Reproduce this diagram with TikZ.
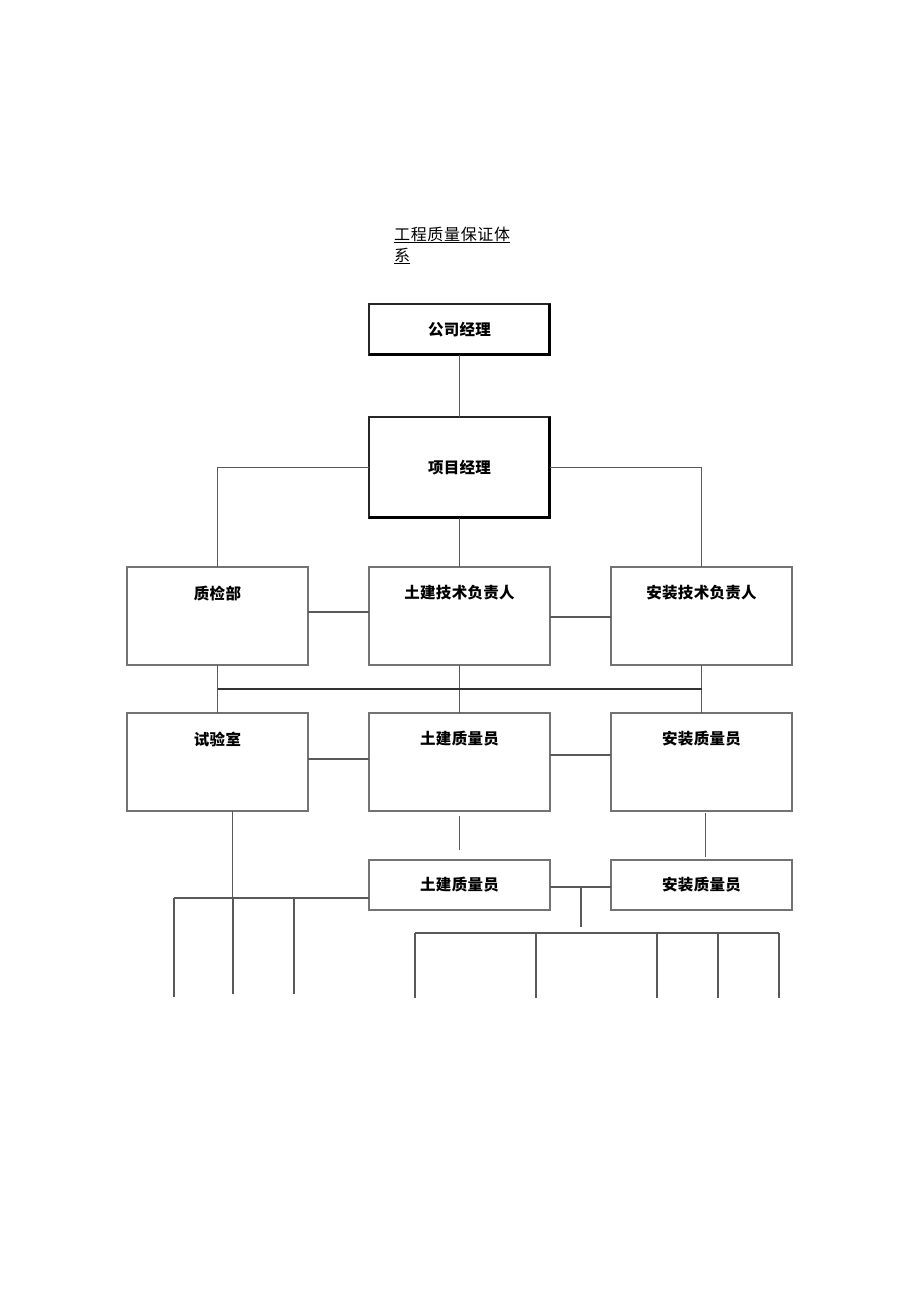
\documentclass[tikz,border=0pt]{standalone}
\usepackage{fontspec}
\newfontfamily\cjk{Noto Sans CJK SC}[LetterSpace=2]
\newfontfamily\cjktitle{Noto Sans CJK SC}[LetterSpace=4]
\usetikzlibrary{positioning}

\begin{document}
\begin{tikzpicture}[x=1pt,y=-1pt,
  line/.style={draw=black!65, line width=1.2pt},
  box/.style={draw=black!55, line width=1.2pt, minimum width=181pt, minimum height=98pt, inner sep=0pt, outer sep=0pt},
  lowbox/.style={box, minimum height=50pt, font=\cjk\bfseries\fontsize{15.5}{17}\selectfont},
  topbox/.style={draw=black!85, line width=1.2pt, minimum width=181pt, inner sep=0pt, outer sep=0pt, font=\cjk\bfseries\fontsize{15.5}{17}\selectfont},
  boxlabel/.style={label={[anchor=north, yshift=-15pt, font=\cjk\bfseries\fontsize{15.5}{17}\selectfont]north:#1}}]
  \useasboundingbox (0,0) rectangle (920,1301);
  \node [anchor=base west, font=\cjktitle\fontsize{16}{18}\selectfont, inner sep=0pt] (title) at (394,240) {\underline{工程质量保证体}};
  \node [anchor=base west, font=\cjktitle\fontsize{16}{18}\selectfont, inner sep=0pt] (title2) at (394,261) {\underline{系}};
  \node [topbox, minimum height=51pt] (gsjl) at (459.5,329.5) {公司经理};
  \node [topbox, minimum height=101pt] (xmjl) at (459.5,467.5) {项目经理};
  \node [box, boxlabel=质检部] (zjb) at (217.5,616) {};
  \node [box, boxlabel=土建技术负责人] (tjjs) at (459.5,616) {};
  \node [box, boxlabel=安装技术负责人] (azjs) at (701.5,616) {};
  \node [box, boxlabel=试验室] (sys) at (217.5,762) {};
  \node [box, boxlabel=土建质量员] (tjzl) at (459.5,762) {};
  \node [box, boxlabel=安装质量员] (azzl) at (701.5,762) {};
  \node [lowbox] (tjzl2) at (459.5,885) {土建质量员};
  \node [lowbox] (azzl2) at (701.5,885) {安装质量员};
  \foreach \n in {gsjl,xmjl}
    \draw [line width=2.4pt] ([xshift=-0.6pt]\n.north east) -- ([xshift=-0.6pt,yshift=0.6pt]\n.south east) -- ([yshift=0.6pt]\n.south west);
  \coordinate (bus) at (0,689);
  \coordinate (labbus) at (0,898);
  \coordinate (azbus) at (0,933);
  \draw [line] (gsjl.south) -- (xmjl.north);
  \draw [line] (xmjl.west) -| (zjb.north);
  \draw [line] (xmjl.east) -| (azjs.north);
  \draw [line] (xmjl.south) -- (tjjs.north);
  \draw [line] ([yshift=4pt]zjb.east) -- ([yshift=4pt]tjjs.west);
  \draw [line] ([yshift=-1pt]tjjs.east) -- ([yshift=-1pt]azjs.west);
  \draw [line] (zjb.south) -- (sys.north);
  \draw [line] (tjjs.south) -- (tjzl.north);
  \draw [line] (azjs.south) -- (azzl.north);
  \draw [line, draw=black!80] (zjb.south |- bus) -- (azjs.south |- bus);
  \draw [line] ([yshift=3pt]sys.east) -- ([yshift=3pt]tjzl.west);
  \draw [line] ([yshift=7pt]tjzl.east) -- ([yshift=7pt]azzl.west);
  \draw [line] ([yshift=-5pt]tjzl.south) -- ([yshift=10pt]tjzl2.north);
  \draw [line] ([xshift=4pt,yshift=-2pt]azzl.south) -- ([xshift=4pt,yshift=3pt]azzl2.north);
  \draw [line] ([xshift=15pt]sys.south) -- ([xshift=15pt]sys.south |- labbus);
  \draw [line] (174,898) -- (tjzl2.west |- labbus);
  \foreach \x/\y in {174/997,233/994,294/994}
    \draw [line] (\x,898) -- (\x,\y);
  \draw [line] ([yshift=-2pt]tjzl2.east) -- ([yshift=-2pt]azzl2.west);
  \draw [line] (581,887) -- (581,927);
  \draw [line] (415,933) -- (779,933);
  \foreach \x in {415,536,657,718,779}
    \draw [line] (\x,933) -- (\x,998);
\end{tikzpicture}
\end{document}
